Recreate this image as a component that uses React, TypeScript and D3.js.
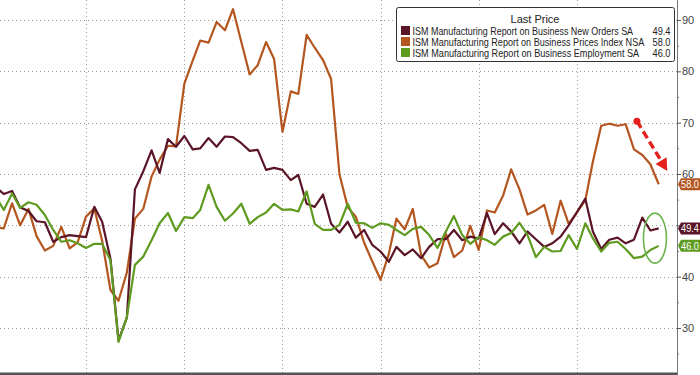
import { useEffect, useRef } from "react";
import * as d3 from "d3";

// monthly readings, Jan 2019 .. Oct 2025
const newOrders = [
  57.4, 56.1, 56.7, 53.5, 52.8, 50.8, 50.6, 46.8, 47.7, 48.1, 47.9, 47.7,
  53.6, 50.7, 43.5, 27.6, 32.0, 57.0, 60.5, 64.6, 60.2, 66.8, 65.3, 67.4,
  64.8, 65.0, 67.0, 65.3, 67.3, 67.2, 66.0, 64.5, 64.7, 60.8, 61.2, 60.8,
  58.8, 59.8, 54.2, 53.6, 56.0, 50.3, 48.6, 50.7, 47.6, 49.1, 46.2, 44.9,
  42.9, 45.8, 44.2, 45.3, 43.6, 45.8, 47.3, 47.3, 49.1, 47.1, 47.8, 47.4,
  52.4, 48.3, 50.4, 48.8, 46.5, 48.8, 47.3, 45.8, 46.5, 47.8, 50.0, 52.6,
  55.2, 48.8, 45.4, 47.2, 47.6, 46.5, 47.2, 51.5, 49.0, 49.4,
];
const prices = [
  49.6, 49.4, 54.3, 50.0, 53.2, 47.9, 45.1, 46.0, 49.7, 45.5, 46.7, 51.7,
  53.3, 47.0, 37.4, 35.3, 40.8, 51.3, 53.2, 59.5, 62.8, 65.5, 65.4, 77.6,
  82.1, 86.0, 85.6, 89.6, 88.0, 92.1, 85.7, 79.4, 81.2, 85.7, 82.4, 68.2,
  76.1, 75.6, 87.1, 84.6, 82.2, 78.5, 60.0, 53.5, 51.7, 46.6, 43.0, 39.4,
  44.5, 51.3, 49.2, 53.2, 44.2, 41.8, 42.6, 48.4, 43.8, 45.1, 49.9, 45.2,
  52.9, 52.5, 55.8, 60.9, 57.0, 52.1, 52.9, 54.0, 48.3, 54.8, 50.3, 52.5,
  54.9, 62.4, 69.4, 69.8, 69.4, 69.7, 64.8, 63.7, 61.9, 58.0,
];
const employment = [
  55.5, 53.0, 56.2, 53.4, 54.5, 54.0, 52.0, 49.1, 46.8, 47.1, 46.5, 45.6,
  46.4, 46.4, 43.2, 27.3, 32.1, 42.3, 43.9, 47.1, 50.4, 52.4, 48.9, 51.6,
  51.4, 53.0, 57.9, 53.6, 50.9, 52.3, 54.2, 50.3, 51.6, 52.5, 54.2, 53.0,
  53.1, 52.7, 56.6, 50.3, 49.1, 49.1, 50.1, 54.2, 50.5, 50.4, 49.5, 50.4,
  50.1, 49.1, 48.1, 49.3, 49.7, 48.1, 45.6, 48.8, 51.8, 48.1, 46.4, 47.7,
  47.1, 46.2, 47.8, 48.5, 50.5, 48.1, 43.8, 45.8, 44.9, 45.0, 48.1, 45.4,
  50.4, 47.5, 44.9, 46.6, 46.8, 45.4, 43.6, 43.9, 45.2, 46.0,
];

const seriesNames = [
  "ISM Manufacturing Report on Business New Orders SA",
  "ISM Manufacturing Report on Business Prices Index NSA",
  "ISM Manufacturing Report on Business Employment SA",
];
const lastPrices = ["49.4", "58.0", "46.0"];
const colors = ["#5a1527", "#b4561f", "#5e9b20"];
const yTicks = [30, 40, 50, 60, 70, 80, 90];
const yMinorTicks = [25, 35, 45, 55, 65, 75, 85];

export default function App() {
  const ref = useRef<SVGSVGElement>(null);

  useEffect(() => {
    const W = 700;
    const H = 375;
    const AXIS_X = 677;
    const BOTTOM = 373;
    const FONT = "Liberation Sans, Arial, sans-serif";

    const svg = d3.select(ref.current);
    svg.selectAll("*").remove();

    // squeeze a text horizontally to a given width (condensed look)
    const squeezed = (parent: any, tx: number, ty: number, str: string, size: number, width: number, fill: string, anchorEnd = false) => {
      const g = parent.append("g");
      const t = g
        .append("text")
        .attr("x", 0)
        .attr("y", 0)
        .attr("font-size", size)
        .attr("font-family", FONT)
        .attr("fill", fill)
        .text(str);
      const natural = (t.node() as SVGTextElement).getComputedTextLength() || width;
      const sx = Math.min(1, width / natural);
      const left = anchorEnd ? tx - natural * sx : tx;
      g.attr("transform", `translate(${left}, ${ty}) scale(${sx}, 1)`);
      return g;
    };

    // month-end dates
    const months = newOrders.map((_, i) => new Date(2019, i + 1, 1));

    const x = d3
      .scaleTime()
      .domain([new Date(2020, 0, 1), new Date(2025, 0, 1)])
      .range([86, 577]);
    const y = d3.scaleLinear().domain([30, 90]).range([328, 20]);

    svg.append("rect").attr("width", W).attr("height", H).attr("fill", "#fff");

    svg
      .append("defs")
      .append("clipPath")
      .attr("id", "plot-clip")
      .append("rect")
      .attr("x", 0)
      .attr("y", 0)
      .attr("width", AXIS_X)
      .attr("height", BOTTOM);

    // grid
    const grid = svg
      .append("g")
      .attr("stroke", "#9c9c9c")
      .attr("stroke-width", 1)
      .attr("stroke-dasharray", "1,3");
    yTicks.forEach((t) => {
      grid
        .append("line")
        .attr("x1", 0)
        .attr("x2", AXIS_X)
        .attr("y1", Math.round(y(t)) + 0.5)
        .attr("y2", Math.round(y(t)) + 0.5);
    });
    d3.timeYear.range(new Date(2020, 0, 1), new Date(2025, 1, 1)).forEach((d) => {
      grid
        .append("line")
        .attr("x1", Math.round(x(d)) + 0.5)
        .attr("x2", Math.round(x(d)) + 0.5)
        .attr("y1", 0)
        .attr("y2", BOTTOM);
    });

    // lines
    const plot = svg.append("g").attr("clip-path", "url(#plot-clip)");
    const line = d3
      .line<number>()
      .x((_, i) => x(months[i]))
      .y((d) => y(d));
    [prices, newOrders, employment].forEach((s, k) => {
      const c = [colors[1], colors[0], colors[2]][k];
      plot
        .append("path")
        .datum(s)
        .attr("fill", "none")
        .attr("stroke", c)
        .attr("stroke-width", 2.2)
        .attr("stroke-linejoin", "round")
        .attr("d", line);
    });

    // bottom line
    svg
      .append("rect")
      .attr("x", 0)
      .attr("y", BOTTOM - 0.5)
      .attr("width", AXIS_X)
      .attr("height", 2.5)
      .attr("fill", "#555");

    // right axis
    svg
      .append("line")
      .attr("x1", AXIS_X + 0.5)
      .attr("x2", AXIS_X + 0.5)
      .attr("y1", 0)
      .attr("y2", H)
      .attr("stroke", "#777");

    const flagVals = [newOrders, prices, employment].map((s) => s[s.length - 1]);
    // tick labels hidden behind a last-value flag are not drawn (as in Bloomberg)
    const covered = (t: number) => flagVals.some((v) => Math.abs(y(v) - y(t)) < 9);

    const axis = svg
      .append("g")
      .attr("transform", `translate(${AXIS_X}, 0)`)
      .call(
        d3
          .axisRight(y)
          .tickValues(yTicks)
          .tickSize(4)
          .tickPadding(1)
          .tickFormat((t) => (covered(+t) ? "" : String(t)))
      );
    axis.select(".domain").remove();
    axis.selectAll(".tick line").attr("stroke", "#555");
    axis
      .selectAll(".tick text")
      .attr("fill", "#444")
      .attr("font-size", 11)
      .attr("font-family", FONT);

    const minor = svg
      .append("g")
      .attr("transform", `translate(${AXIS_X}, 0)`)
      .call(d3.axisRight(y).tickValues(yMinorTicks).tickSize(2).tickFormat(() => ""));
    minor.select(".domain").remove();
    minor.selectAll(".tick line").attr("stroke", "#777");

    // last value flags
    flagVals.forEach((v, i) => {
      const cy = y(v);
      const g = svg.append("g");
      g.append("path")
        .attr(
          "d",
          `M${AXIS_X + 1},${cy} L${AXIS_X + 4},${cy - 6} L${W},${cy - 6} L${W},${cy + 6} L${AXIS_X + 4},${cy + 6} Z`
        )
        .attr("fill", colors[i]);
      squeezed(g, AXIS_X + 4, cy + 3.8, lastPrices[i], 10.5, 18, "#fff");
    });

    // legend
    const lg = svg.append("g");
    lg.append("rect")
      .attr("x", 396.5)
      .attr("y", 7.5)
      .attr("width", 278)
      .attr("height", 54)
      .attr("rx", 2)
      .attr("fill", "#fff")
      .attr("stroke", "#333");
    lg.append("text")
      .attr("x", 535)
      .attr("y", 23)
      .attr("text-anchor", "middle")
      .attr("font-size", 11)
      .attr("fill", "#222")
      .attr("font-family", FONT)
      .text("Last Price");
    const nameWidths = [221, 232, 227];
    seriesNames.forEach((name, i) => {
      const cy = 30.5 + i * 11;
      lg.append("rect")
        .attr("x", 401)
        .attr("y", cy - 4.5)
        .attr("width", 9)
        .attr("height", 9)
        .attr("fill", colors[i]);
      squeezed(lg, 412.5, cy + 4, name, 10.5, nameWidths[i], "#222");
      squeezed(lg, 670.5, cy + 4, lastPrices[i], 10.5, 18, "#222", true);
    });

    // annotations: red dashed arrow over prices, green ellipse round the last readings
    const aStart = [x(new Date(2025, 7, 12)), y(70.3)];
    const aEnd = [x(new Date(2025, 11, 3)), y(60.6)];
    const ang = Math.atan2(aEnd[1] - aStart[1], aEnd[0] - aStart[0]);
    const headLen = 12;
    const shaftEnd = [aEnd[0] - Math.cos(ang) * headLen * 0.8, aEnd[1] - Math.sin(ang) * headLen * 0.8];
    svg
      .append("circle")
      .attr("cx", aStart[0])
      .attr("cy", aStart[1])
      .attr("r", 3.5)
      .attr("fill", "#e3201b");
    svg
      .append("line")
      .attr("x1", aStart[0])
      .attr("y1", aStart[1])
      .attr("x2", shaftEnd[0])
      .attr("y2", shaftEnd[1])
      .attr("stroke", "#e3201b")
      .attr("stroke-width", 3.4)
      .attr("stroke-dasharray", "8,4");
    const px = -Math.sin(ang);
    const py = Math.cos(ang);
    const base = [aEnd[0] - Math.cos(ang) * headLen, aEnd[1] - Math.sin(ang) * headLen];
    svg
      .append("path")
      .attr(
        "d",
        `M${aEnd[0]},${aEnd[1]} L${base[0] + px * 6.5},${base[1] + py * 6.5} L${base[0] - px * 6.5},${base[1] - py * 6.5} Z`
      )
      .attr("fill", "#e3201b");

    svg
      .append("ellipse")
      .attr("cx", x(new Date(2025, 9, 18)))
      .attr("cy", y(47.5))
      .attr("rx", 11.5)
      .attr("ry", 25)
      .attr("fill", "none")
      .attr("stroke", "#6cb34f")
      .attr("stroke-width", 1.6);
  }, []);

  return (
    <svg
      ref={ref}
      width={700}
      height={375}
      style={{ position: "absolute", left: 0, top: 0, display: "block" }}
    />
  );
}
